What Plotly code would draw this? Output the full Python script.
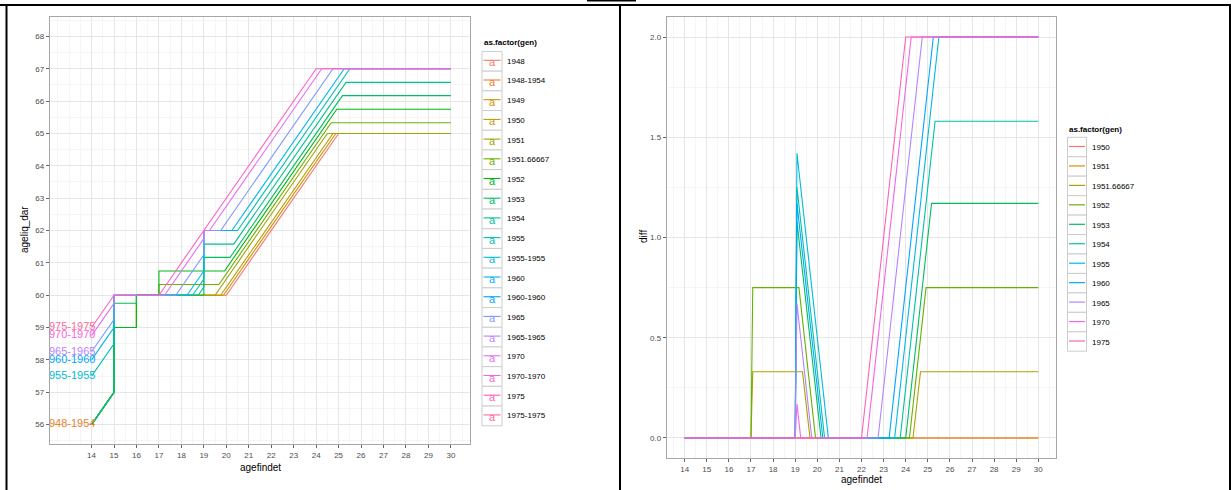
import math
import plotly.graph_objects as go

# ---------------- data ----------------
left_levels = ["1948", "1948-1954", "1949", "1950", "1951", "1951.66667", "1952", "1953",
               "1954", "1955", "1955-1955", "1960", "1960-1960", "1965", "1965-1965",
               "1970", "1970-1970", "1975", "1975-1975"]
right_levels = ["1950", "1951", "1951.66667", "1952", "1953", "1954", "1955", "1960",
                "1965", "1970", "1975"]

x_ticks = list(range(14, 31))
left_y_ticks = list(range(56, 69))
right_y_ticks = [0.0, 0.5, 1.0, 1.5, 2.0]
right_y_ticktext = ["0.0", "0.5", "1.0", "1.5", "2.0"]

# left panel: ageliq_dar vs agefindet (vertices)
g1948_x = [14, 15, 15, 16, 16, 20, 25, 30]
g1948_y = [56, 57, 59, 59, 60, 60, 65, 65]
g1949_x = [14, 15, 15, 16, 16, 19.875, 24.875, 30]
g1949_y = [56, 57, 59, 59, 60, 60, 65, 65]
g1950_x = [14, 15, 15, 16, 16, 19.75, 24.75, 30]
g1950_y = [56, 57, 59, 59, 60, 60, 65, 65]
g1951_x = [14, 15, 15, 16, 16, 19.5, 24.5, 30]
g1951_y = [56, 57, 59, 59, 60, 60, 65, 65]
g1951b_x = [14, 15, 15, 16, 16, 17, 17, 19.67, 24.67, 30]
g1951b_y = [56, 57, 59, 59, 60, 60, 60.33, 60.33, 65.33, 65.33]
g1952_x = [14, 15, 15, 16, 16, 17, 17, 19.92, 24.92, 30]
g1952_y = [56, 57, 59, 59, 60, 60, 60.75, 60.75, 65.75, 65.75]
g1953_x = [14, 15, 15, 16, 16, 19, 19, 20.17, 25.17, 30]
g1953_y = [56, 57, 59.75, 59.75, 60, 60, 61.17, 61.17, 66.17, 66.17]
g1954_x = [14, 15, 15, 18.75, 19, 19, 20.33, 25.33, 30]
g1954_y = [56, 57, 60, 60, 60.25, 61.58, 61.58, 66.58, 66.58]
g1955_x = [14, 15, 15, 18.5, 19, 19, 20.5, 25.5, 30]
g1955_y = [57.5, 58.5, 60, 60, 60.5, 62, 62, 67, 67]
g1960_x = [14, 15, 15, 18.25, 19, 19, 20.25, 25.25, 30]
g1960_y = [58, 59, 60, 60, 60.75, 62, 62, 67, 67]
g1965_x = [14, 15, 15, 17.75, 19, 19, 19.75, 24.75, 30]
g1965_y = [58.25, 59.25, 60, 60, 61.25, 62, 62, 67, 67]
g1970_x = [14, 15, 15, 17.25, 19, 19, 19.25, 24.25, 30]
g1970_y = [58.75, 59.75, 60, 60, 61.75, 62, 62, 67, 67]
g1975_x = [14, 15, 17, 24, 30]
g1975_y = [59, 60, 60, 67, 67]

label_text = ["1948-1954", "1955-1955", "1960-1960", "1965-1965", "1970-1970", "1975-1975"]
label_x = [13, 13, 13, 13, 13, 13]
label_y = [56, 57.5, 58, 58.25, 58.75, 59]

# right panel: diff vs agefindet
d1950_x = [14, 30]
d1950_y = [0, 0]
d1951_x = [14, 30]
d1951_y = [0, 0]
d1951b_x = [14, 17, 17.08, 19.33, 19.67, 24.33, 24.67, 30]
d1951b_y = [0, 0, 0.33, 0.33, 0, 0, 0.33, 0.33]
d1952_x = [14, 17, 17.08, 19.17, 19.92, 24.17, 24.92, 30]
d1952_y = [0, 0, 0.75, 0.75, 0, 0, 0.75, 0.75]
d1953_x = [14, 19, 19.08, 20.17, 24, 25.17, 30]
d1953_y = [0, 0, 1.08, 0, 0, 1.17, 1.17]
d1954_x = [14, 19, 19.08, 20.33, 23.75, 25.33, 30]
d1954_y = [0, 0, 1.25, 0, 0, 1.58, 1.58]
d1955_x = [14, 19, 19.08, 20.5, 23.5, 25.5, 30]
d1955_y = [0, 0, 1.42, 0, 0, 2, 2]
d1960_x = [14, 19, 19.08, 20.25, 23.25, 25.25, 30]
d1960_y = [0, 0, 1.17, 0, 0, 2, 2]
d1965_x = [14, 19, 19.08, 19.75, 22.75, 24.75, 30]
d1965_y = [0, 0, 0.67, 0, 0, 2, 2]
d1970_x = [14, 19, 19.08, 19.25, 22.25, 24.25, 30]
d1970_y = [0, 0, 0.17, 0, 0, 2, 2]
d1975_x = [14, 22, 24, 30]
d1975_y = [0, 0, 2, 2]


# ---------------- helpers ----------------
def hcl_hex(h, c=100.0, l=65.0):
    WX, WY, WZ = 95.047, 100.0, 108.883
    hr = math.radians(h)
    U = c * math.cos(hr)
    V = c * math.sin(hr)
    Y = WY * (((l + 16) / 116) ** 3 if l > 7.999592 else l / 903.3)
    t = WX + 15 * WY + 3 * WZ
    un = 4 * WX / t
    vn = 9 * WY / t
    u = U / (13 * l) + un
    v = V / (13 * l) + vn
    X = 9.0 * Y * u / (4 * v)
    Z = -X / 3 - 5 * Y + 3 * Y / v

    def g(a):
        return 1.055 * a ** (1 / 2.4) - 0.055 if a > 0.00304 else 12.92 * a

    r = g((3.240479 * X - 1.537150 * Y - 0.498535 * Z) / WY)
    gg = g((-0.969256 * X + 1.875992 * Y + 0.041556 * Z) / WY)
    b = g((0.055648 * X - 0.204043 * Y + 1.057311 * Z) / WY)
    vals = [min(1, max(0, q)) for q in (r, gg, b)]
    return "#%02X%02X%02X" % tuple(int(round(255 * q)) for q in vals)


def hue_pal(n):
    return [hcl_hex(15 + 360 * i / n) for i in range(n)]


lcol = dict(zip(left_levels, hue_pal(len(left_levels))))
rcol = dict(zip(right_levels, hue_pal(len(right_levels))))

W, H = 1231, 490


def px(x):
    return x / W


def py(y):
    return 1 - y / H


FONT = "Liberation Sans, Arial, Helvetica, sans-serif"
TICKCOL = "#4D4D4D"
GRID = "#E6E6E6"
MINOR = "#F5F5F5"
BORDER = "#A6A6A6"

fig = go.Figure()

left_series = [
    ("1948", g1948_x, g1948_y), ("1949", g1949_x, g1949_y), ("1950", g1950_x, g1950_y),
    ("1951", g1951_x, g1951_y), ("1951.66667", g1951b_x, g1951b_y),
    ("1952", g1952_x, g1952_y), ("1953", g1953_x, g1953_y), ("1954", g1954_x, g1954_y),
    ("1955", g1955_x, g1955_y), ("1960", g1960_x, g1960_y), ("1965", g1965_x, g1965_y),
    ("1970", g1970_x, g1970_y), ("1975", g1975_x, g1975_y),
]
for gen, xs, ys in left_series:
    fig.add_trace(go.Scatter(x=xs, y=ys, mode="lines", line=dict(color=lcol[gen], width=1.1),
                             xaxis="x", yaxis="y", showlegend=False, hoverinfo="skip"))

fig.add_trace(go.Scatter(x=label_x, y=label_y, mode="text", text=label_text,
                         textposition="middle center",
                         textfont=dict(family=FONT, size=11, color=[lcol[t] for t in label_text]),
                         cliponaxis=True, xaxis="x", yaxis="y", showlegend=False, hoverinfo="skip"))

right_series = [
    ("1950", d1950_x, d1950_y), ("1951", d1951_x, d1951_y), ("1951.66667", d1951b_x, d1951b_y),
    ("1952", d1952_x, d1952_y), ("1953", d1953_x, d1953_y), ("1954", d1954_x, d1954_y),
    ("1955", d1955_x, d1955_y), ("1960", d1960_x, d1960_y), ("1965", d1965_x, d1965_y),
    ("1970", d1970_x, d1970_y), ("1975", d1975_x, d1975_y),
]
for gen, xs, ys in right_series:
    fig.add_trace(go.Scatter(x=xs, y=ys, mode="lines", line=dict(color=rcol[gen], width=1.1),
                             xaxis="x2", yaxis="y2", showlegend=False, hoverinfo="skip"))


def axis_common():
    return dict(showline=True, mirror=True, linecolor=BORDER, linewidth=1.3,
                ticks="outside", ticklen=3, tickcolor="#666666", tickwidth=1,
                tickfont=dict(family=FONT, size=8, color=TICKCOL),
                showgrid=True, gridcolor=GRID, gridwidth=1, zeroline=False, fixedrange=True)


xa = axis_common()
xa.update(domain=[px(50), px(470)], range=[12.15, 30.85], tickvals=x_ticks, anchor="y",
          minor=dict(dtick=0.5, tick0=0, showgrid=True, gridcolor=MINOR, ticks=""))
ya = axis_common()
ya.update(domain=[py(444), py(17)], range=[55.4, 68.6], tickvals=left_y_ticks, anchor="x",
          minor=dict(dtick=0.5, tick0=0, showgrid=True, gridcolor=MINOR, ticks=""))
xa2 = axis_common()
xa2.update(domain=[px(667), px(1056)], range=[13.2, 30.8], tickvals=x_ticks, anchor="y2",
           minor=dict(dtick=0.5, tick0=0, showgrid=True, gridcolor=MINOR, ticks=""))
ya2 = axis_common()
ya2.update(domain=[py(458), py(17)], range=[-0.1, 2.1], tickvals=right_y_ticks,
           ticktext=right_y_ticktext, anchor="x2",
           minor=dict(dtick=0.25, tick0=0, showgrid=True, gridcolor=MINOR, ticks=""))

shapes = []
annotations = []

# axis titles
annotations += [
    dict(x=px(260), y=py(467), xref="paper", yref="paper", text="agefindet", showarrow=False,
         font=dict(family=FONT, size=10, color="black"), xanchor="center", yanchor="middle"),
    dict(x=px(24), y=py(230), xref="paper", yref="paper", text="ageliq_dar", showarrow=False,
         textangle=-90, font=dict(family=FONT, size=10, color="black"),
         xanchor="center", yanchor="middle"),
    dict(x=px(861), y=py(479), xref="paper", yref="paper", text="agefindet", showarrow=False,
         font=dict(family=FONT, size=10, color="black"), xanchor="center", yanchor="middle"),
    dict(x=px(643), y=py(237), xref="paper", yref="paper", text="diff", showarrow=False,
         textangle=-90, font=dict(family=FONT, size=10, color="black"),
         xanchor="center", yanchor="middle"),
]

# left legend
annotations.append(dict(x=px(482), y=py(43), xref="paper", yref="paper",
                        text="<b>as.factor(gen)</b>", showarrow=False,
                        font=dict(family=FONT, size=8, color="black"),
                        xanchor="left", yanchor="middle"))
for i, lvl in enumerate(left_levels):
    cy = 61.3 + 19.7 * i
    shapes.append(dict(type="rect", xref="paper", yref="paper", x0=px(482), x1=px(502),
                       y0=py(cy - 9.85), y1=py(cy + 9.85), line=dict(color="#CCCCCC", width=1),
                       fillcolor="white", layer="above"))
    annotations.append(dict(x=px(492), y=py(cy + 1), xref="paper", yref="paper", text="a",
                            showarrow=False, font=dict(family=FONT, size=11, color=lcol[lvl]),
                            xanchor="center", yanchor="middle"))
    shapes.append(dict(type="line", xref="paper", yref="paper", x0=px(483.5), x1=px(500.5),
                       y0=py(cy - 1), y1=py(cy - 1), line=dict(color=lcol[lvl], width=1.1),
                       layer="above"))
    annotations.append(dict(x=px(504.5), y=py(cy), xref="paper", yref="paper", text=lvl,
                            showarrow=False, font=dict(family=FONT, size=8, color="black"),
                            xanchor="left", yanchor="middle"))

# right legend
annotations.append(dict(x=px(1067), y=py(129), xref="paper", yref="paper",
                        text="<b>as.factor(gen)</b>", showarrow=False,
                        font=dict(family=FONT, size=8, color="black"),
                        xanchor="left", yanchor="middle"))
for i, lvl in enumerate(right_levels):
    cy = 147.0 + 19.45 * i
    shapes.append(dict(type="rect", xref="paper", yref="paper", x0=px(1067.5), x1=px(1086.5),
                       y0=py(cy - 9.7), y1=py(cy + 9.7), line=dict(color="#CCCCCC", width=1),
                       fillcolor="white", layer="above"))
    shapes.append(dict(type="line", xref="paper", yref="paper", x0=px(1069), x1=px(1085),
                       y0=py(cy - 0.5), y1=py(cy - 0.5), line=dict(color=rcol[lvl], width=1.2),
                       layer="above"))
    annotations.append(dict(x=px(1090), y=py(cy + 0.5), xref="paper", yref="paper", text=lvl,
                            showarrow=False, font=dict(family=FONT, size=8, color="black"),
                            xanchor="left", yanchor="middle"))

# table frame lines
shapes += [
    dict(type="line", xref="paper", yref="paper", x0=0, x1=1, y0=py(5), y1=py(5),
         line=dict(color="black", width=2)),
    dict(type="line", xref="paper", yref="paper", x0=px(6.5), x1=px(6.5), y0=py(5), y1=0,
         line=dict(color="black", width=2)),
    dict(type="line", xref="paper", yref="paper", x0=px(620), x1=px(620), y0=py(5), y1=0,
         line=dict(color="black", width=2)),
    dict(type="line", xref="paper", yref="paper", x0=px(1230), x1=px(1230), y0=py(5), y1=0,
         line=dict(color="black", width=2)),
    dict(type="line", xref="paper", yref="paper", x0=px(587), x1=px(636), y0=py(0.8), y1=py(0.8),
         line=dict(color="black", width=1.5)),
]

fig.update_layout(
    width=W, height=H, autosize=False,
    margin=dict(l=0, r=0, t=0, b=0),
    paper_bgcolor="white", plot_bgcolor="white",
    xaxis=xa, yaxis=ya, xaxis2=xa2, yaxis2=ya2,
    shapes=shapes, annotations=annotations,
    showlegend=False,
)

fig.write_html("out.html",
               config={"displayModeBar": False, "staticPlot": True},
               post_script="document.body.style.margin='0px';"
                           "document.body.style.padding='0px';"
                           "document.body.style.overflow='hidden';")
